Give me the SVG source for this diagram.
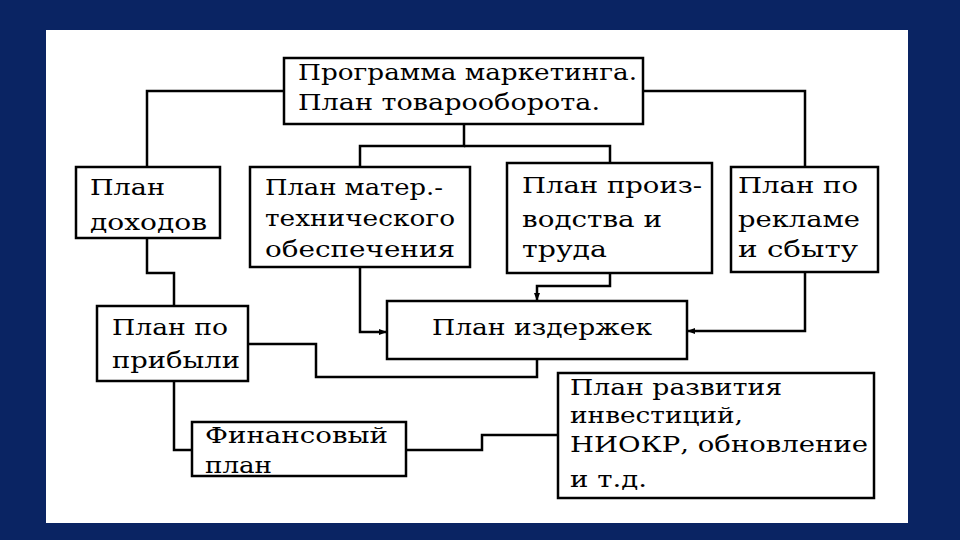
<svg xmlns="http://www.w3.org/2000/svg" width="960" height="540" viewBox="0 0 960 540">
<style>
.box{fill:#fff;stroke:#000;stroke-width:2.5}
.ln{fill:none;stroke:#000;stroke-width:2.5}
text{font-family:"DejaVu Serif","Liberation Serif",serif;font-size:22px;fill:#000}
</style>
<defs>
<marker id="ar" viewBox="0 0 8 8" refX="7" refY="4" markerWidth="8" markerHeight="8" markerUnits="userSpaceOnUse" orient="auto">
<path d="M0,1 L8,4 L0,7 Z" fill="#000"/>
</marker>
</defs>
<rect width="960" height="540" fill="#0a2463"/>
<rect x="46" y="30" width="862" height="493" fill="#fff"/>
<g id="connectors">
<polyline class="ln" points="284,91 147,91 147,167"/>
<polyline class="ln" points="643,91 805,91 805,167"/>
<polyline class="ln" points="464,124 464,146 360,146 360,167"/>
<polyline class="ln" points="464,146 610,146 610,163"/>
<polyline class="ln" points="147,238 147,273 174,273 174,306"/>
<polyline class="ln" points="360,267 360,332 386,332" marker-end="url(#ar)"/>
<polyline class="ln" points="610,273 610,286 537,286 537,300" marker-end="url(#ar)"/>
<polyline class="ln" points="805,272 805,331 688,331" marker-end="url(#ar)"/>
<polyline class="ln" points="248,344 316,344 316,377 537,377 537,359"/>
<polyline class="ln" points="174,381 174,450 192,450"/>
<polyline class="ln" points="406,450 482,450 482,435 558,435"/>
</g>
<g id="n-marketing">
<rect class="box" x="284" y="58" width="359" height="66"/>
<text x="298" y="80" textLength="339" lengthAdjust="spacingAndGlyphs">Программа маркетинга.</text>
<text x="298" y="110" textLength="302" lengthAdjust="spacingAndGlyphs">План товарооборота.</text>
</g>
<g id="n-dohody">
<rect class="box" x="76" y="167" width="144" height="71"/>
<text x="90" y="195" textLength="75" lengthAdjust="spacingAndGlyphs">План</text>
<text x="90" y="230" textLength="117" lengthAdjust="spacingAndGlyphs">доходов</text>
</g>
<g id="n-mto">
<rect class="box" x="250" y="167" width="220" height="100"/>
<text x="265" y="195" textLength="178" lengthAdjust="spacingAndGlyphs">План матер.-</text>
<text x="265" y="226" textLength="190" lengthAdjust="spacingAndGlyphs">технического</text>
<text x="265" y="257" textLength="190" lengthAdjust="spacingAndGlyphs">обеспечения</text>
</g>
<g id="n-proizv">
<rect class="box" x="507" y="163" width="205" height="110"/>
<text x="522" y="193" textLength="180" lengthAdjust="spacingAndGlyphs">План произ-</text>
<text x="522" y="227" textLength="140" lengthAdjust="spacingAndGlyphs">водства и</text>
<text x="522" y="257" textLength="85" lengthAdjust="spacingAndGlyphs">труда</text>
</g>
<g id="n-reklama">
<rect class="box" x="731" y="167" width="147" height="105"/>
<text x="738" y="193" textLength="120" lengthAdjust="spacingAndGlyphs">План по</text>
<text x="738" y="227" textLength="122" lengthAdjust="spacingAndGlyphs">рекламе</text>
<text x="738" y="257" textLength="120" lengthAdjust="spacingAndGlyphs">и сбыту</text>
</g>
<g id="n-pribyl">
<rect class="box" x="97" y="306" width="151" height="75"/>
<text x="112" y="335" textLength="116" lengthAdjust="spacingAndGlyphs">План по</text>
<text x="112" y="368" textLength="128" lengthAdjust="spacingAndGlyphs">прибыли</text>
</g>
<g id="n-izderzhki">
<rect class="box" x="387" y="301" width="300" height="58"/>
<text x="432" y="335" textLength="220" lengthAdjust="spacingAndGlyphs">План издержек</text>
</g>
<g id="n-finplan">
<rect class="box" x="192" y="422" width="214" height="54"/>
<text x="205" y="443" textLength="183" lengthAdjust="spacingAndGlyphs">Финансовый</text>
<text x="205" y="473" textLength="67" lengthAdjust="spacingAndGlyphs">план</text>
</g>
<g id="n-razvitie">
<rect class="box" x="558" y="373" width="316" height="125"/>
<text x="570" y="395" textLength="212" lengthAdjust="spacingAndGlyphs">План развития</text>
<text x="570" y="423" textLength="173" lengthAdjust="spacingAndGlyphs">инвестиций,</text>
<text x="570" y="452" textLength="298" lengthAdjust="spacingAndGlyphs">НИОКР, обновление</text>
<text x="570" y="487" textLength="77" lengthAdjust="spacingAndGlyphs">и т.д.</text>
</g>
</svg>
